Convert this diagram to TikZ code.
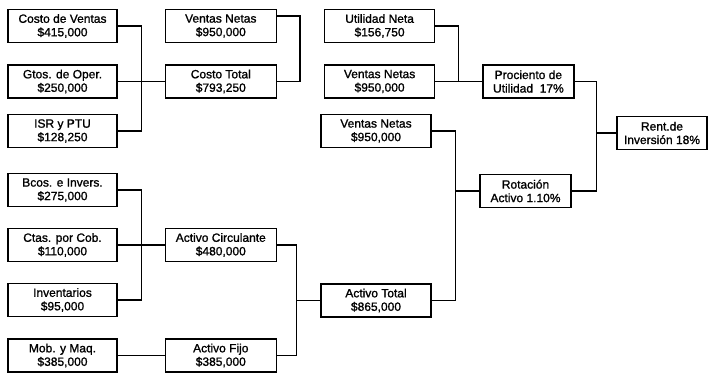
\documentclass[tikz,border=0pt]{standalone}
\usepackage{fontspec}
\setmainfont{Liberation Sans}
\newfontfamily\scanfont{Liberation Sans}[FakeBold=1.2]
\usepackage{tikz}
\usetikzlibrary{positioning,calc}

\begin{document}
\begin{tikzpicture}[x=1pt,y=1pt,node distance=47pt,
		cell/.style={draw,line width=1.3pt,align=center,inner sep=1pt,minimum height=33pt,
			font=\scanfont\fontsize{12}{13.5}\selectfont},
		colA/.style={cell,minimum width=109pt},
		colB/.style={cell,minimum width=111pt},
		colC/.style={cell,minimum width=110pt},
		colD/.style={cell,minimum width=91pt},
		colE/.style={cell,minimum width=90pt},
		link/.style={line width=1.1pt}]
		\useasboundingbox (0,0) rectangle (708,-372);
		% costos
		\node[colA] (cv) at (62.5,-26) {Costo de Ventas\\\$415,000};
		\node[colA] (go) at (62.5,-81.5) {Gtos. de Oper.\\\$250,000};
		\node[colA] (isr) at (62.5,-131) {ISR y PTU\\\$128,250};
		\node[colB] (vn1) [right=of cv] {Ventas Netas\\\$950,000};
		\node[colB] (ct) [right=of go] {Costo Total\\\$793,250};
		% activos
		\node[colA] (bi) at (62.5,-190) {Bcos. e Invers.\\\$275,000};
		\node[colA] (cxc) at (62.5,-245) {Ctas. por Cob.\\\$110,000};
		\node[colA] (inv) at (62.5,-300) {Inventarios\\\$95,000};
		\node[colA] (mob) at (62.5,-355.5) {Mob. y Maq.\\\$385,000};
		\node[colB] (ac) [right=of cxc] {Activo Circulante\\\$480,000};
		\node[colB] (af) [right=of mob] {Activo Fijo\\\$385,000};
		% razones
		\node[colC] (un) [right=of vn1] {Utilidad Neta\\\$156,750};
		\node[colC] (vn2) [right=of ct] {Ventas Netas\\\$950,000};
		\node[colC] (vn3) at (376,-131) {Ventas Netas\\\$950,000};
		\node[colC] (at) at (376,-300.5) {Activo Total\\\$865,000};
		\node[colD] (pu) [right=of vn2] {Prociento de\\Utilidad~~17\%};
		\node[colD] (rot) at (525.5,-191) {Rotaci\'on\\Activo 1.10\%};
		\node[colE] (ri) at (662,-133) {Rent.de\\Inversi\'on 18\%};

		\coordinate (k1) at ($(go.east)!.5!(ct.west)$);
		\coordinate (k3) at ($(cxc.east)!.5!(ac.west)$);
		\coordinate (k5) at ($(vn2.east)!.5!(pu.west)$);
		\draw[link] (cv.east) -| (k1) |- (isr.east)
				(go.east) -- (ct.west)
				([yshift=10pt]vn1.east) -- ++(23,0) |- (ct.east)
				(bi.east) -| (k3) |- (inv.east)
				(cxc.east) -- (ac.west)
				(mob.east) -- (af.west)
				(at.west) -- ++(-24,0) coordinate (k4)
				(ac.east) -| (k4) |- (af.east)
				(un.east) -| (k5) |- (vn2.east)
				(vn2.east) -- (pu.west)
				(rot.west) -- ++(-24,0) coordinate (k6)
				(vn3.east) -| (k6) |- (at.east)
				(ri.west) -- ++(-20,0) coordinate (k7)
				(pu.east) -| (k7) |- (rot.east);
\end{tikzpicture}
\end{document}
